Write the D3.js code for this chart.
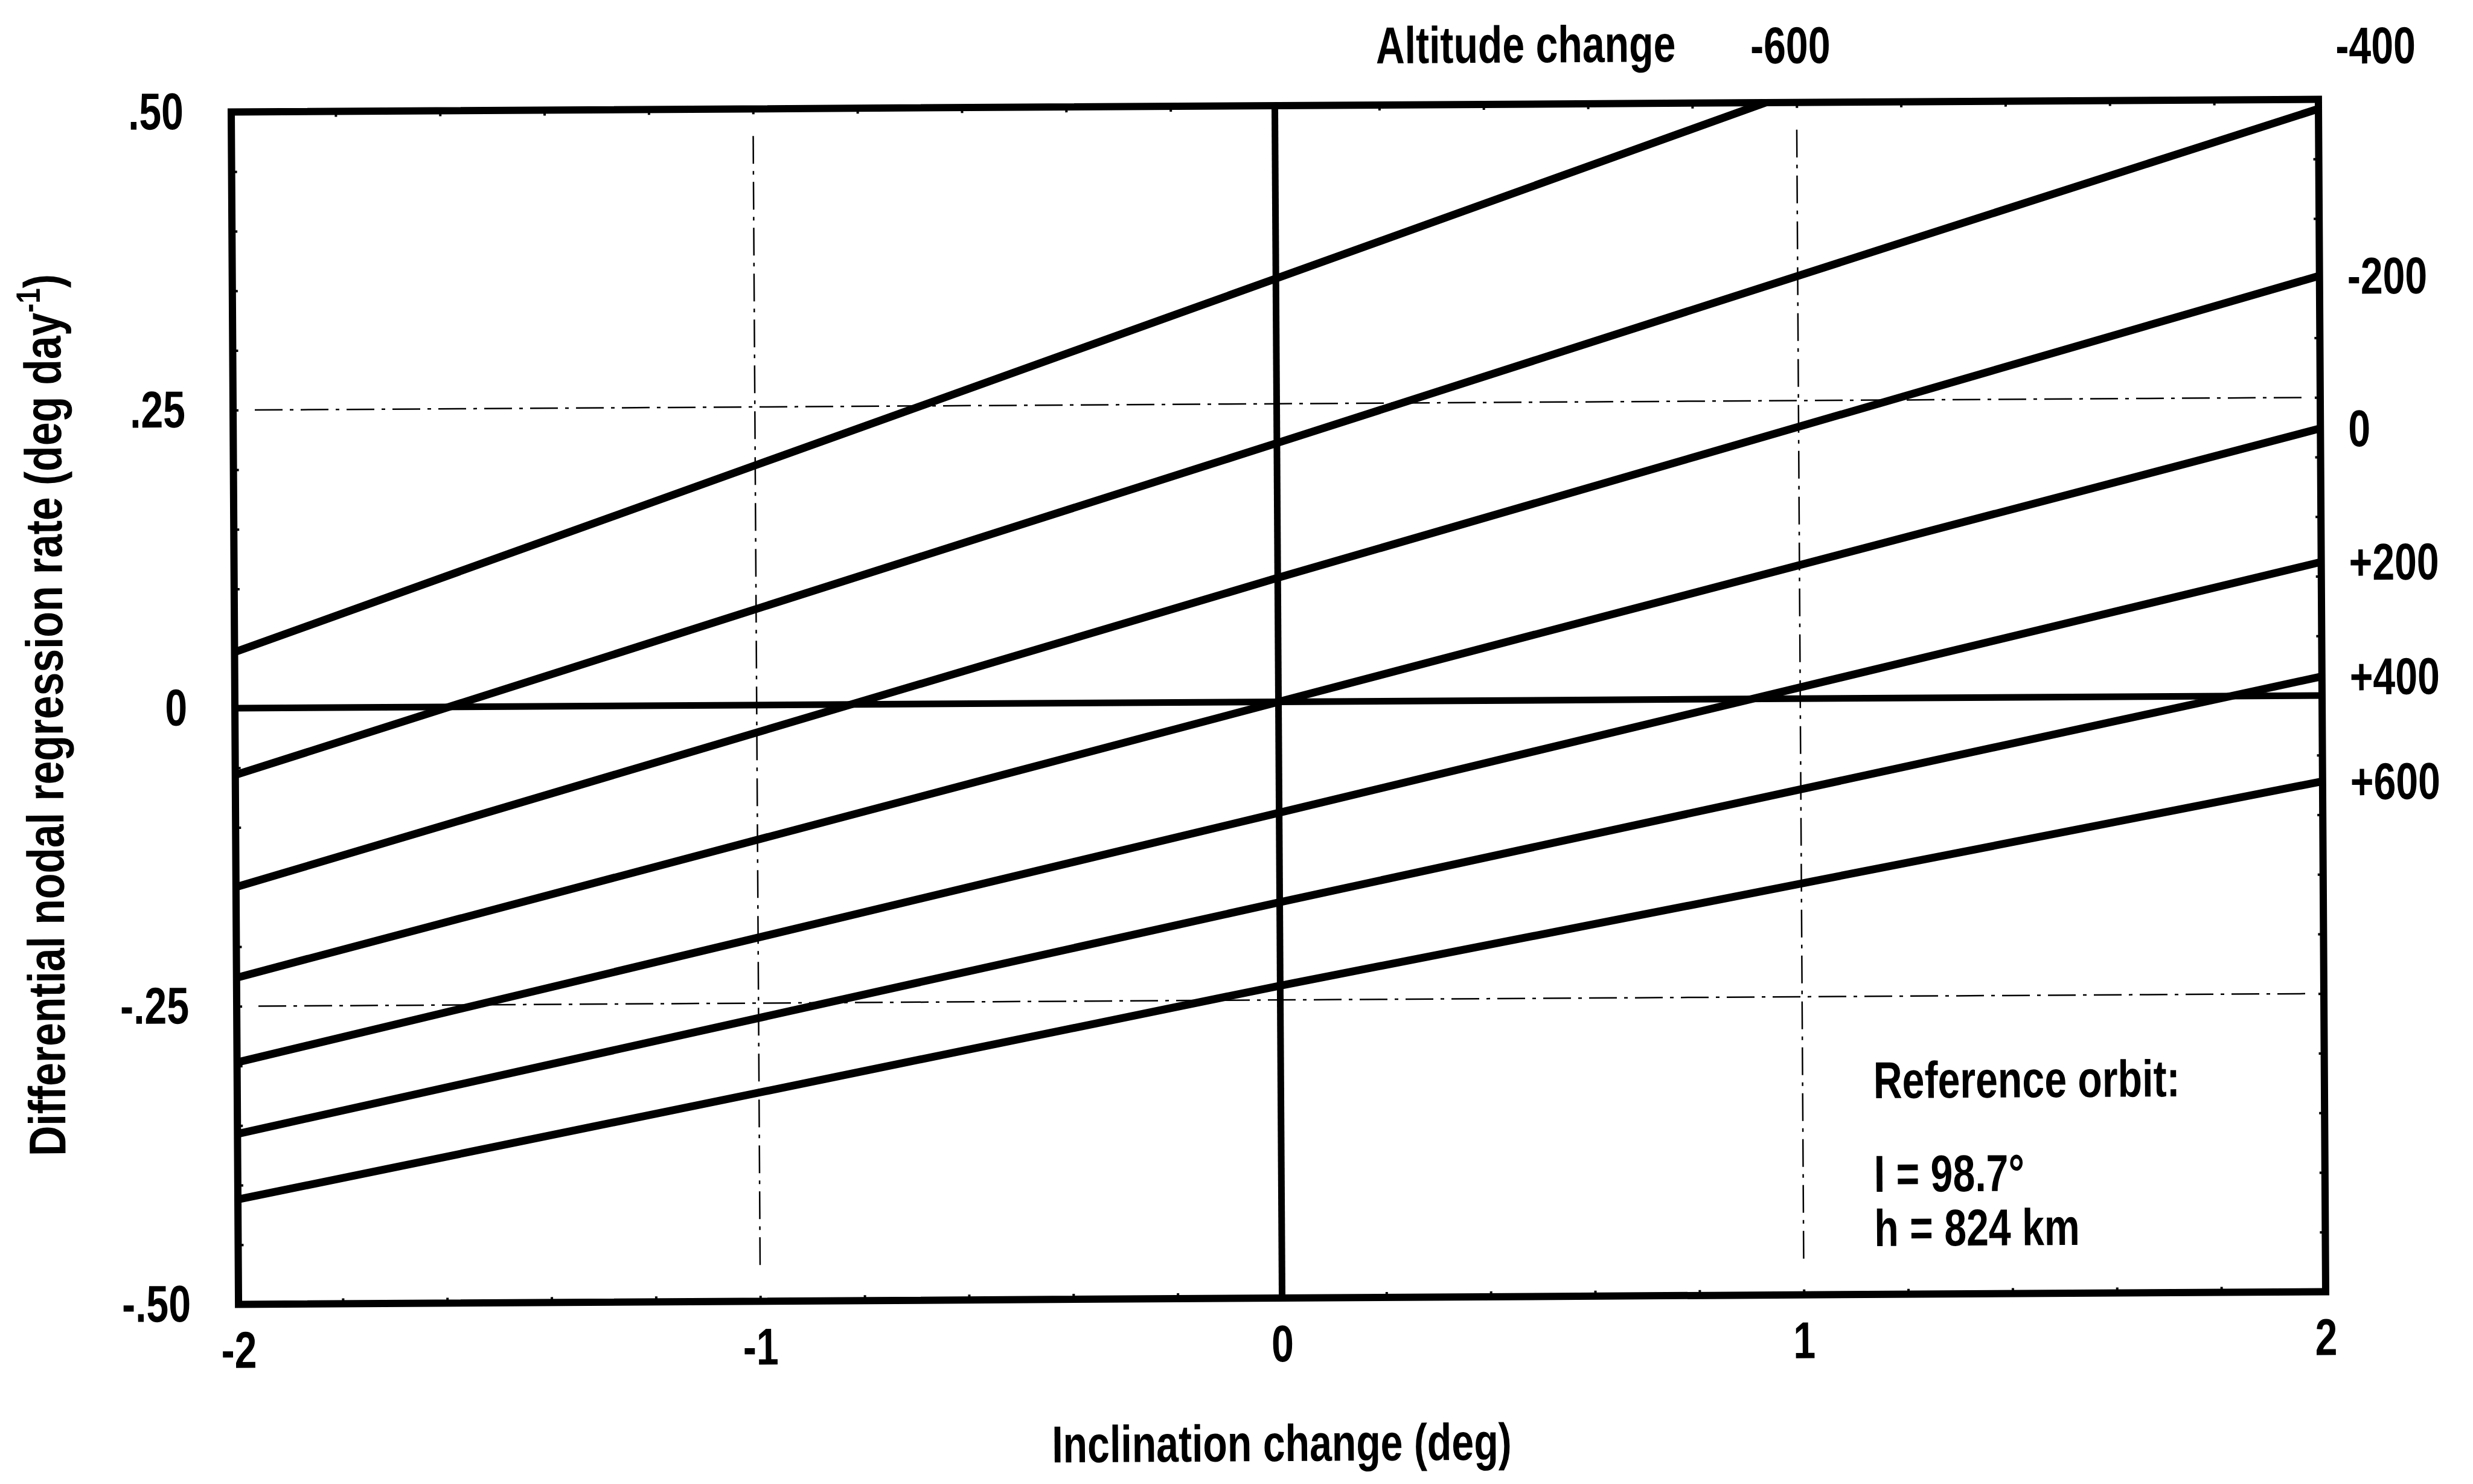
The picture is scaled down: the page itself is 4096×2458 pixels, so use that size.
<!DOCTYPE html>
<html>
<head>
<meta charset="utf-8">
<script src="https://cdn.jsdelivr.net/npm/d3@7"></script>
<style>
  html, body { margin: 0; padding: 0; background: #fff; }
  text { font-family: "Liberation Sans", Arial, Helvetica, sans-serif; fill: #000; }
</style>
</head>
<body>
<div id="chart-container"></div>
<script>
// altitude change (km) for each line, top to bottom
var altitudeLabels = ["-600", "-400", "-200", "0", "+200", "+400", "+600"];

// [inclination change (deg), differential nodal regression rate (deg/day)]
var lineM600 = [[-2, 0.047], [0, 0.355], [0.94, 0.50]];
var lineM400 = [[-2, -0.056], [0, 0.217], [2, 0.492]];
var lineM200 = [[-2, -0.150], [0, 0.104], [2, 0.352]];
var line0 = [[-2, -0.226], [0, 0.000], [2, 0.224]];
var lineP200 = [[-2, -0.297], [0, -0.093], [2, 0.112]];
var lineP400 = [[-2, -0.357], [0, -0.168], [2, 0.016]];
var lineP600 = [[-2, -0.412], [0, -0.238], [2, -0.072]];

var xTicks = [-2, -1, 0, 1, 2];
var xTickLabels = ["-2", "-1", "0", "1", "2"];
var yTicks = [0.5, 0.25, 0, -0.25, -0.5];
var yTickLabels = [".50", ".25", "0", "-.25", "-.50"];
var gridX = [-1, 1];
var gridY = [0.25, -0.25];

var series = [lineM600, lineM400, lineM200, line0, lineP200, lineP400, lineP600];

var width = 4096, height = 2458;
var plotLeft = 389, plotRight = 3846, plotTop = 175, plotBottom = 2150;

var root = d3.select("#chart-container").append("svg")
    .attr("width", width)
    .attr("height", height)
    .style("background-color", "#fff");

// the scanned page sits very slightly skewed
var svg = root.append("g")
    .attr("transform", "rotate(-0.35,2117,1162)");

var x = d3.scaleLinear().domain([-2, 2]).range([plotLeft, plotRight]);
var y = d3.scaleLinear().domain([-0.5, 0.5]).range([plotBottom, plotTop]);

svg.append("clipPath").attr("id", "plot-clip")
  .append("rect")
    .attr("x", plotLeft).attr("y", plotTop)
    .attr("width", plotRight - plotLeft).attr("height", plotBottom - plotTop);

// dash-dot grid
svg.append("g").selectAll("line")
    .data(gridX)
    .enter().append("line")
    .attr("x1", function(d) { return x(d); })
    .attr("x2", function(d) { return x(d); })
    .attr("y1", plotTop + 45)
    .attr("y2", plotBottom - 60)
    .attr("stroke", "#000")
    .attr("stroke-width", 2.5)
    .attr("stroke-dasharray", "46 12 6 12");

svg.append("g").selectAll("line")
    .data(gridY)
    .enter().append("line")
    .attr("x1", plotLeft + 36)
    .attr("x2", plotRight - 24)
    .attr("y1", function(d) { return y(d); })
    .attr("y2", function(d) { return y(d); })
    .attr("stroke", "#000")
    .attr("stroke-width", 2.5)
    .attr("stroke-dasharray", "46 12 6 12");

// zero lines
svg.append("line")
    .attr("x1", x(0)).attr("x2", x(0))
    .attr("y1", plotTop).attr("y2", plotBottom)
    .attr("stroke", "#000").attr("stroke-width", 11);
svg.append("line")
    .attr("x1", plotLeft).attr("x2", plotRight)
    .attr("y1", y(0)).attr("y2", y(0))
    .attr("stroke", "#000").attr("stroke-width", 11);

// minor ticks, pointing inwards on every side
function minor(axis) {
  return function(g) {
    g.call(axis.tickSize(-9).tickFormat(""));
    g.select(".domain").remove();
    g.selectAll(".tick line").attr("stroke", "#000").attr("stroke-width", 4);
  };
}
svg.append("g").attr("transform", "translate(0," + plotBottom + ")").call(minor(d3.axisBottom(x).ticks(20)));
svg.append("g").attr("transform", "translate(0," + plotTop + ")").call(minor(d3.axisTop(x).ticks(20)));
svg.append("g").attr("transform", "translate(" + plotLeft + ",0)").call(minor(d3.axisLeft(y).ticks(20)));
svg.append("g").attr("transform", "translate(" + plotRight + ",0)").call(minor(d3.axisRight(y).ticks(20)));

// the altitude lines
var line = d3.line()
    .x(function(d) { return x(d[0]); })
    .y(function(d) { return y(d[1]); });

svg.append("g")
    .attr("clip-path", "url(#plot-clip)")
  .selectAll("path")
    .data(series)
    .enter().append("path")
    .attr("d", line)
    .attr("fill", "none")
    .attr("stroke", "#000")
    .attr("stroke-width", 13)
    .attr("stroke-linecap", "round");

// frame
svg.append("rect")
    .attr("x", plotLeft).attr("y", plotTop)
    .attr("width", plotRight - plotLeft).attr("height", plotBottom - plotTop)
    .attr("fill", "none")
    .attr("stroke", "#000")
    .attr("stroke-width", 12);

// tick labels
var xAxis = svg.append("g")
    .attr("transform", "translate(0," + plotBottom + ")")
    .call(d3.axisBottom(x).tickValues(xTicks).tickSize(0).tickPadding(44)
      .tickFormat(function(d, i) { return xTickLabels[i]; }));
xAxis.select(".domain").remove();
xAxis.selectAll("text").attr("font-size", 86).attr("font-family", null);

var yAxis = svg.append("g")
    .attr("transform", "translate(" + plotLeft + ",0)")
    .call(d3.axisLeft(y).tickValues(yTicks).tickSize(0).tickPadding(79)
      .tickFormat(function(d, i) { return yTickLabels[i]; }));
yAxis.select(".domain").remove();
yAxis.selectAll("text").attr("font-size", 86).attr("font-family", null);

// altitude labels at the line ends
var ends = series.map(function(s, i) {
  var p = s[s.length - 1];
  return { label: altitudeLabels[i], x: p[0], y: p[1] };
});

svg.append("g").selectAll("text")
    .data(ends)
    .enter().append("text")
    .attr("x", function(d, i) {
      if (i == 0) return x(d.x) + 42;
      return i == 1 ? x(d.x) + 29 : x(d.x) + 46;
    })
    .attr("y", function(d, i) { return i < 2 ? 110 + i * 6 : y(d.y); })
    .attr("dy", function(d, i) { return i < 2 ? 0 : "0.35em"; })
    .attr("text-anchor", function(d, i) { return i == 0 ? "middle" : "start"; })
    .attr("font-size", 86)
    .text(function(d) { return d.label; });

svg.append("text")
    .attr("x", 2782).attr("y", 106)
    .attr("text-anchor", "end")
    .attr("font-size", 86)
    .text("Altitude change");

// axis titles
svg.append("text")
    .attr("x", x(0) - 2).attr("y", 2420)
    .attr("text-anchor", "middle")
    .attr("font-size", 86)
    .text("Inclination change (deg)");

var yTitle = svg.append("text")
    .attr("class", "long")
    .attr("transform", "translate(104,1172) rotate(-90)")
    .attr("text-anchor", "middle")
    .attr("font-size", 86);
yTitle.append("tspan").text("Differential nodal regression rate (deg day");
yTitle.append("tspan").attr("font-size", 56).attr("dy", -34).text("-1");
yTitle.append("tspan").attr("dy", 34).text(")");

// reference orbit note
var note = svg.append("g")
    .attr("font-size", 86);
note.append("text").attr("x", 3099).attr("y", 1825).text("Reference orbit:");
note.append("text").attr("x", 3099).attr("y", 1980).text("I = 98.7°");
note.append("text").attr("x", 3099).attr("y", 2070).text("h = 824 km");

// the scanned lettering is condensed and heavy
svg.selectAll("text")
    .attr("font-weight", "bold")
    .each(function() {
      var t = d3.select(this);
      var tx = +t.attr("x") || 0;
      var squeeze = t.classed("long") ? 0.81 : 0.77;
      t.attr("transform", (t.attr("transform") || "") +
        " translate(" + tx + ",0) scale(" + squeeze + ",1) translate(" + (-tx) + ",0)");
    });
</script>
</body>
</html>
